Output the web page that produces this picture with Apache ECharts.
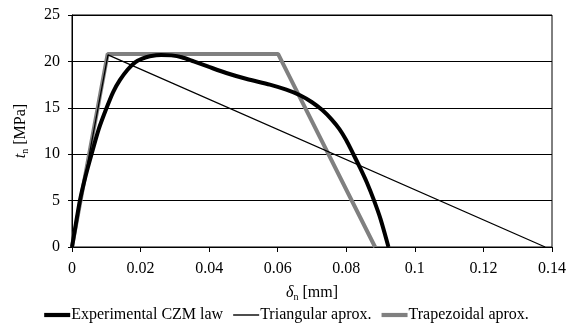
<!DOCTYPE html>
<html><head><meta charset="utf-8">
<script src="https://cdn.jsdelivr.net/npm/echarts@6/dist/echarts.min.js"></script>
<style>html,body{margin:0;padding:0;background:#fff}#c{width:573px;height:323px}</style>
</head><body><div id="c"></div>
<script>
const seriesNames = ['Experimental CZM law', 'Triangular aprox.', 'Trapezoidal aprox.'];
const expX = [0, 0.001, 0.0023, 0.004, 0.0057, 0.0078, 0.0101, 0.012, 0.014, 0.0162, 0.0184, 0.0205, 0.0227, 0.026, 0.029, 0.032, 0.0355, 0.040, 0.045, 0.051, 0.0577, 0.0625, 0.0665, 0.070, 0.073, 0.0757, 0.078, 0.080, 0.082, 0.084, 0.086, 0.088, 0.090, 0.0923];
const expY = [0, 2.2, 5, 7.7, 10, 12.7, 15, 16.7, 18.0, 19.1, 19.9, 20.3, 20.55, 20.7, 20.65, 20.45, 20.0, 19.4, 18.75, 18.1, 17.5, 16.95, 16.35, 15.6, 14.75, 13.75, 12.7, 11.5, 10.05, 8.55, 6.95, 5.1, 3.0, 0];
const triX = [0, 0.0105, 0.138];
const triY = [0, 20.7, 0];
const trapX = [0, 0.0104, 0.0601, 0.0884];
const trapY = [0, 20.8, 20.8, 0];
const xTicks = [0, 0.02, 0.04, 0.06, 0.08, 0.1, 0.12, 0.14];
const yTicks = [0, 5, 10, 15, 20, 25];

const zip = (xs, ys) => xs.map((x, i) => [x, ys[i]]);
const font = 'Liberation Serif';
const chart = echarts.init(document.getElementById('c'), null, {renderer: 'canvas'});
const nameRich = {
  i: {fontStyle: 'italic', fontSize: 16, fontFamily: font, color: '#000'},
  s: {fontSize: 10, fontFamily: font, color: '#000', verticalAlign: 'bottom', padding: [8, 0, 0, 0]}
};
chart.setOption({
  animation: false,
  textStyle: {fontFamily: font},
  grid: {left: 72, right: 21, top: 15, bottom: 76, show: true, borderColor: '#000', borderWidth: 1},
  legend: {
    top: 302, left: 'center', itemWidth: 26, itemHeight: 10, itemGap: 10, symbolKeepAspect: true,
    textStyle: {fontFamily: font, fontSize: 16, color: '#000', padding: [0, 0, 0, -4]},
    data: [
      {name: seriesNames[0], icon: 'path://M0,0h26v4.2h-26z', itemStyle: {color: '#000'}},
      {name: seriesNames[1], icon: 'path://M0,0h26v1.4h-26z', itemStyle: {color: '#000'}},
      {name: seriesNames[2], icon: 'path://M0,0h26v4.2h-26z', itemStyle: {color: '#808080'}}
    ]
  },
  xAxis: {
    type: 'value', min: 0, max: 0.14, interval: 0.02,
    axisLine: {lineStyle: {color: '#000', width: 1}},
    axisTick: {show: true, inside: false, length: 5, lineStyle: {color: '#000'}},
    splitLine: {show: false},
    axisLabel: {color: '#000', fontSize: 16, fontFamily: font, margin: 14,
      formatter: v => { const t = xTicks.find(k => Math.abs(k - v) < 1e-9); return t === undefined ? '' : String(t); }},
    name: '{i|δ}{s|n} [mm]', nameLocation: 'middle', nameGap: 37,
    nameTextStyle: {color: '#000', fontSize: 16, fontFamily: font, rich: nameRich}
  },
  yAxis: {
    type: 'value', min: 0, max: 25, interval: 5,
    axisLine: {show: true, lineStyle: {color: '#000', width: 1}},
    axisTick: {show: true, length: 4, lineStyle: {color: '#000'}},
    splitLine: {show: true, lineStyle: {color: '#000', width: 1}},
    axisLabel: {color: '#000', fontSize: 16, fontFamily: font, margin: 12,
      formatter: v => { const t = yTicks.find(k => Math.abs(k - v) < 1e-9); return t === undefined ? '' : String(t); }},
    name: '{i|t}{s|n} [MPa]', nameLocation: 'middle', nameGap: 42, nameRotate: 90,
    nameTextStyle: {color: '#000', fontSize: 16, fontFamily: font, rich: nameRich}
  },
  series: [
    {name: seriesNames[0], type: 'line', data: zip(expX, expY), smooth: 0.25, symbol: 'none', z: 3,
      lineStyle: {color: '#000', width: 4}, itemStyle: {color: '#000'}},
    {name: seriesNames[1], type: 'line', data: zip(triX, triY), symbol: 'none', z: 4,
      lineStyle: {color: '#000', width: 1.3}, itemStyle: {color: '#000'}},
    {name: seriesNames[2], type: 'line', data: zip(trapX, trapY), symbol: 'none', z: 2,
      lineStyle: {color: '#808080', width: 4}, itemStyle: {color: '#808080'}}
  ]
});
</script></body></html>
